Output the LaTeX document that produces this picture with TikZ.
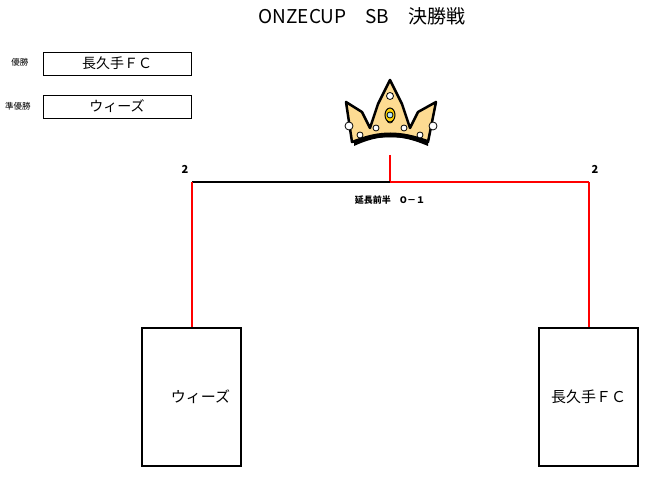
\documentclass[tikz,border=0pt]{standalone}
\usepackage{fontspec}
\newfontfamily\jp{Noto Sans CJK JP}
\begin{document}
\begin{tikzpicture}[x=1pt, y=-1pt]
        % STYLES
        % -----------------
        \tikzset{namebox/.style={draw, line width=1.3pt, inner sep=0pt},
                 lbl/.style={font=\jp\fontsize{8.5}{10}\selectfont},
                 win/.style={red, line width=1.3pt},
                 lose/.style={black, line width=1.3pt}}
        \useasboundingbox (0,0) rectangle (646,478);

        % TEXTS
        % -----------------
        \node[font=\jp\fontsize{19}{21}\selectfont] (title) at (362,16) {ONZECUP　SB　決勝戦};
        \node[lbl] (first_lbl) at (20,62) {優勝};
        \node[lbl] (second_lbl) at (18,106) {準優勝};
        \node[namebox, line width=0.9pt, minimum width=148pt, minimum height=23pt, font=\jp\fontsize{14}{16}\selectfont] (first) at (117,63.5) {長久手ＦＣ};
        \node[namebox, line width=0.9pt, minimum width=148pt, minimum height=23pt, font=\jp\fontsize{14}{16}\selectfont] (second) at (117,106.5) {ウィーズ};

        % TEAMS
        % -----------------
        \node[namebox, minimum width=99pt, minimum height=138pt, font=\jp\fontsize{15}{17}\selectfont] (team_a) at (191.5,397) {\hspace*{18pt}ウィーズ};
        \node[namebox, minimum width=99pt, minimum height=138pt, font=\jp\fontsize{15}{17}\selectfont] (team_b) at (588.5,397) {長久手ＦＣ};

        % CROWN
        % -----------------
        \filldraw[fill=yellow!35!orange!40, line width=2.5pt, line join=round]
          (352,142) -- (346,102) -- (362,112) -- (370,128) -- (378,104) -- (390,80)
          -- (402,104) -- (410,128) -- (418,112) -- (436,102) -- (428,142)
          .. controls (400,134) and (380,134) .. (352,142) -- cycle;
        \fill[black] (354,146) .. controls (380,134) and (400,134) .. (428,146) -- (428,140) .. controls (400,130) and (380,130) .. (354,140) -- cycle;
        \foreach \cx/\cy/\r in {349/126/4, 433/126/4, 390/96/3.5, 360/135/3, 376/128/3, 404/128/3, 420/135/3, 390/120/3}
          \filldraw[fill=white, line width=0.8pt] (\cx,\cy) circle (\r);
        \filldraw[fill=yellow!70!orange, line width=1pt] (390,115) ellipse (5 and 7);
        \filldraw[fill=cyan!30, line width=0.8pt] (390,115) circle (3);
        \coordinate (crown) at (390,155);

        % BRACKET
        % -----------------
        \coordinate (top) at (390,182);
        \coordinate (a_top) at (192,182);
        \coordinate (b_top) at (589,182);
        \draw[win] (crown) -- (top);
        \draw[lose] (a_top) -- (top);
        \draw[win] (top) -- (b_top);
        \draw[win] (a_top) -- (a_top |- team_a.north);
        \draw[win] (b_top) -- (b_top |- team_b.north);

        \node[lbl, font=\jp\bfseries\fontsize{11}{12}\selectfont] (score_a) at (185,169) {2};
        \node[lbl, font=\jp\bfseries\fontsize{11}{12}\selectfont] (score_b) at (595,169) {2};
        \node[lbl, font=\jp\bfseries\fontsize{9}{10}\selectfont] (extra) at (390,200) {延長前半　O－１};
\end{tikzpicture}
\end{document}
